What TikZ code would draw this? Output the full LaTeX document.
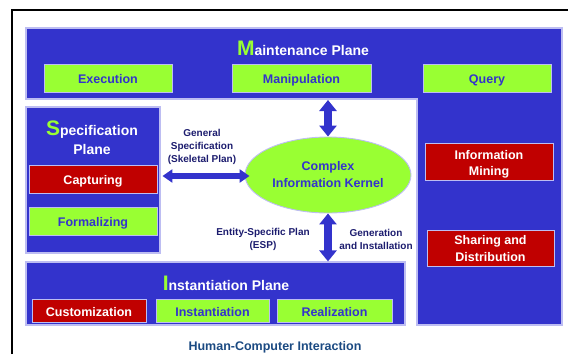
\documentclass[tikz,border=0pt]{standalone}
\usepackage{fontspec}
\setmainfont{Liberation Sans}
\usetikzlibrary{arrows.meta,shapes.geometric}
\definecolor{pblue}{HTML}{3333CC}
\definecolor{pgreen}{HTML}{99FF33}
\definecolor{pred}{HTML}{C00000}
\definecolor{pedge}{HTML}{BDBDF2}
\definecolor{lblc}{HTML}{1C1C6E}
\definecolor{hcic}{HTML}{1B4A82}
\tikzset{
  plane/.style={fill=pblue,draw=pedge,line width=1.2pt},
  gbox/.style={rectangle,fill=pgreen,draw=pedge,line width=0.9pt,text=pblue,font=\fontsize{12.5}{14}\selectfont\bfseries,align=center,inner sep=0pt,text height=13pt,text depth=2pt},
  rbox1/.style={rectangle,fill=pred,draw=pedge,line width=0.9pt,text=white,font=\fontsize{12.5}{14}\selectfont\bfseries,align=center,inner sep=0pt,text height=13pt,text depth=2pt},
  rbox/.style={rectangle,fill=pred,draw=pedge,line width=0.9pt,inner sep=0pt},
  rtext/.style={text=white,font=\fontsize{12.5}{16.5}\selectfont\bfseries,align=center,inner sep=0pt},
  ptitle/.style={text=white,font=\fontsize{14}{19}\selectfont\bfseries,align=center,inner sep=0pt},
  lbl/.style={text=lblc,font=\fontsize{10}{13}\selectfont\bfseries,align=center,inner sep=0pt},
  harrow/.style={draw=pblue,line width=6pt,{Triangle[length=10pt,width=13pt]}-{Triangle[length=10pt,width=13pt]}},
  varrow/.style={draw=pblue,line width=8pt,{Triangle[length=11pt,width=17pt]}-{Triangle[length=11pt,width=17pt]}},
}
\newcommand{\bigL}[1]{{\color{pgreen}\fontsize{21}{21}\selectfont #1}}
\begin{document}
\begin{tikzpicture}[x=1pt,y=-1pt]
\useasboundingbox (0,0) rectangle (568,354);
% frame
\draw[line width=1.6pt,black] (12,354) -- (12,10) -- (568,10);
% maintenance plane (inverted L)
\draw[plane] (26,28) -- (562,28) -- (562,325) -- (417,325) -- (417,99) -- (26,99) -- cycle;
\coordinate (mbot) at (0,100);
\node[ptitle] (mtitle) at (303,48) {\bigL{M}aintenance Plane};
% specification plane
\node[plane,rectangle,minimum width=134pt,minimum height=146pt,inner sep=0pt] (spec) at (93,180) {};
\node[ptitle] (stitle) at (92,138) {\bigL{S}pecification\\Plane};
% instantiation plane
\node[plane,rectangle,minimum width=379pt,minimum height=63pt,inner sep=0pt] (inst) at (215.5,293.5) {};
\node[ptitle] (ititle) at (226,283) {\bigL{I}nstantiation Plane};
% boxes
\node[gbox,minimum width=128pt,minimum height=28pt] (exe) at (108,78) {Execution};
\node[gbox,minimum width=139pt,minimum height=28pt] (man) at (301.5,78) {Manipulation};
\node[gbox,minimum width=128pt,minimum height=28pt] (qry) at (487,78) {Query};
\node[rbox1,minimum width=128pt,minimum height=28pt] (cap) at (93,179) {Capturing};
\node[gbox,minimum width=128pt,minimum height=28pt] (frm) at (93,221) {Formalizing};
\node[rbox,minimum width=128pt,minimum height=37pt] (mine) at (489,162) {};
\node[rtext] (minet) at ([yshift=-2.5pt]mine.center) {Information\\Mining};
\node[rbox,minimum width=127pt,minimum height=36pt] (share) at (490.5,248) {};
\node[rtext] (sharet) at ([yshift=-0.5pt]share.center) {Sharing and\\Distribution};
\node[rbox1,minimum width=114pt,minimum height=23pt] (cust) at (89,310.5) {Customization};
\node[gbox,minimum width=113pt,minimum height=23pt] (instn) at (212.5,310.5) {Instantiation};
\node[gbox,minimum width=115pt,minimum height=23pt] (real) at (334.5,310.5) {Realization};
% kernel
\node[ellipse,fill=pgreen,draw=pedge,line width=0.9pt,minimum width=166pt,minimum height=76pt,inner sep=0pt,text=pblue,font=\fontsize{12.5}{17}\selectfont\bfseries,align=center] (kern) at (328,175) {Complex\\Information Kernel};
% arrows
\draw[harrow] ([xshift=5pt,yshift=3pt]cap.east) -- ([xshift=5pt,yshift=3pt]cap.east -| kern.west);
\draw[varrow] (kern.north) -- (kern.north |- mbot);
\draw[varrow] (kern.south) -- (kern.south |- inst.north);
% labels
\node[lbl] (gen) at (202,147) {General\\Specification\\(Skeletal Plan)};
\node[lbl] (esp) at (263,239) {Entity-Specific Plan\\(ESP)};
\node[lbl] (gi) at (376,239.5) {Generation\\and Installation};
\node[text=hcic,font=\fontsize{12.5}{14}\selectfont\bfseries,inner sep=0pt] (hci) at (275,347) {Human-Computer Interaction};
\end{tikzpicture}
\end{document}
